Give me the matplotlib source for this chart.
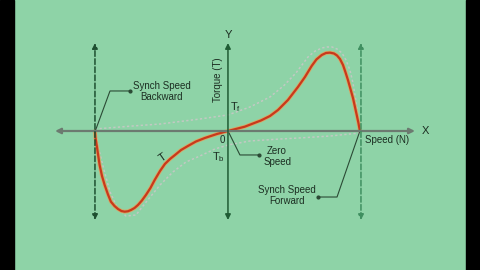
import matplotlib
matplotlib.use("Agg")
import matplotlib.pyplot as plt
from matplotlib.patches import Rectangle

# speed (N) normalised to synchronous speed, torque normalised to peak
speed_T = [-1.0, -0.996, -0.985, -0.965, -0.947, -0.927, -0.902, -0.88, -0.853,
           -0.827, -0.801, -0.777, -0.752, -0.729, -0.703, -0.677, -0.647,
           -0.617, -0.583, -0.551, -0.511, -0.474, -0.436, -0.398, -0.353,
           -0.301, -0.241, -0.173, -0.083, 0.0, 0.126, 0.248, 0.316, 0.376,
           0.451, 0.526, 0.579, 0.629, 0.665, 0.705, 0.737, 0.767, 0.797, 0.82,
           0.842, 0.865, 0.883, 0.902, 0.921, 0.94, 0.955, 0.968, 0.981, 0.992]
torque_T = [0.0, -0.086, -0.198, -0.42, -0.556, -0.667, -0.784, -0.873, -0.926,
            -0.963, -0.988, -0.996, -0.991, -0.975, -0.951, -0.914, -0.858,
            -0.79, -0.704, -0.605, -0.494, -0.407, -0.346, -0.296, -0.235,
            -0.185, -0.13, -0.086, -0.037, 0.0, 0.053, 0.13, 0.185, 0.259,
            0.383, 0.543, 0.667, 0.802, 0.883, 0.938, 0.963, 0.967, 0.957, 0.932,
            0.889, 0.815, 0.728, 0.63, 0.519, 0.407, 0.296, 0.198, 0.099, 0.0]

speed_Tf = [-1.0, -0.714, -0.511, -0.211, 0.0, 0.165, 0.316, 0.42, 0.511, 0.602,
            0.654, 0.707, 0.744, 0.782, 0.82, 0.857, 0.887, 0.917, 0.94, 0.955,
            0.977, 1.0]
torque_Tf = [0.025, 0.062, 0.086, 0.148, 0.198, 0.296, 0.42, 0.56, 0.716, 0.914,
             0.985, 1.025, 1.037, 1.037, 1.012, 0.963, 0.877, 0.753, 0.593, 0.444,
             0.198, 0.0]

speed_Tb = [-0.992, -0.97, -0.932, -0.887, -0.835, -0.767, -0.692, -0.609,
            -0.511, -0.414, -0.316, -0.211, -0.098, 0.0, 0.165, 0.391, 0.541,
            0.767, 0.992]
torque_Tb = [-0.037, -0.235, -0.48, -0.75, -0.94, -1.05, -1.037, -0.864,
             -0.667, -0.506, -0.383, -0.309, -0.222, -0.173, -0.123, -0.099,
             -0.086, -0.062, -0.025]

sync_back = -1.0
sync_fwd = 1.0

bg = "#8ed3a7"
txt = "#1c2e22"
lead = "#2b4a35"

plt.rcParams['font.family'] = ['Liberation Sans', 'DejaVu Sans']

fig = plt.figure(figsize=(4.8, 2.7), dpi=100, facecolor=bg)
ax = fig.add_axes([0, 0, 1, 1])
ax.set_facecolor(bg)
ax.set_xlim(-1.714, 1.895)
ax.set_ylim(-1.716, 1.617)
ax.axis("off")

# axes with arrows
ax.annotate("", xy=(1.406, 0), xytext=(-1.30, 0),
            arrowprops=dict(arrowstyle="<|-|>", color="#6c7a70", lw=1.6,
                            mutation_scale=8, shrinkA=0, shrinkB=0))
ax.annotate("", xy=(0, 1.086), xytext=(0, -1.099),
            arrowprops=dict(arrowstyle="<|-|>", color="#1f5c34", lw=1.1,
                            mutation_scale=8, shrinkA=0, shrinkB=0))
for xs, col in [(sync_back, "#1d4f30"), (sync_fwd, "#3f8f60")]:
    ax.annotate("", xy=(xs, 1.086), xytext=(xs, -1.099),
                arrowprops=dict(arrowstyle="<|-|>", color=col, lw=1.1, ls="--",
                                mutation_scale=8, shrinkA=0, shrinkB=0))

# forward / backward components
ax.plot(speed_Tf, torque_Tf, color="#c2c9c3", lw=1.1, ls=(0, (1.5, 1.5)))
ax.plot(speed_Tb, torque_Tb, color="#c2c9c3", lw=1.1, ls=(0, (1.5, 1.5)))

# resultant torque
ax.plot(speed_T, torque_T, color="#d6aa66", lw=2.8, solid_joinstyle="round",
        solid_capstyle="round")
ax.plot(speed_T, torque_T, color="#c8391c", lw=1.6, solid_joinstyle="round",
        solid_capstyle="round")

# leader lines
ax.plot([-1.0, -0.887, -0.737], [-0.01, 0.494, 0.494], color=lead, lw=0.8)
ax.plot([-0.737], [0.494], "o", color=lead, ms=2)
ax.plot([0.008, 0.09, 0.236], [-0.025, -0.296, -0.296], color=lead, lw=0.8)
ax.plot([0.236], [-0.296], "o", color=lead, ms=2)
ax.plot([0.992, 0.82, 0.677], [0.0, -0.815, -0.815], color=lead, lw=0.8)
ax.plot([0.677], [-0.815], "o", color=lead, ms=2)

fs = 7
ax.text(-0.496, 0.488, "Synch Speed\nBackward", ha="center", va="center",
        fontsize=fs, color=txt, linespacing=1.1)
ax.text(0.37, -0.31, "Zero\nSpeed", ha="center", va="center",
        fontsize=fs, color=txt, linespacing=1.1)
ax.text(0.444, -0.80, "Synch Speed\nForward", ha="center", va="center",
        fontsize=fs, color=txt, linespacing=1.1)
ax.text(1.03, -0.11, "Speed (N)", ha="left", va="center", fontsize=fs, color=txt)
ax.text(1.46, 0.0, "X", ha="left", va="center", fontsize=fs + 1, color=txt)
ax.text(0.0, 1.185, "Y", ha="center", va="center", fontsize=fs + 1, color=txt)
ax.text(-0.075, 0.63, "Torque (T)", ha="center", va="center", rotation=90,
        fontsize=fs, color=txt)
ax.text(0.015, 0.30, r"T$_\mathregular{f}$", ha="left", va="center",
        fontsize=fs + 1, color=txt)
ax.text(-0.045, -0.11, "0", ha="center", va="center", fontsize=fs, color=txt)
ax.text(-0.068, -0.32, r"T$_\mathregular{b}$", ha="center", va="center",
        fontsize=fs + 1, color=txt)
ax.text(-0.49, -0.33, "T", ha="center", va="center", rotation=35,
        fontsize=fs + 1, color=txt)

# black side bars
fig.patches.append(Rectangle((0, 0), 14 / 480, 1, transform=fig.transFigure,
                             color="black", zorder=10))
fig.patches.append(Rectangle((466 / 480, 0), 14 / 480, 1,
                             transform=fig.transFigure, color="black", zorder=10))

fig.savefig("out.png", dpi=100, facecolor=bg)
